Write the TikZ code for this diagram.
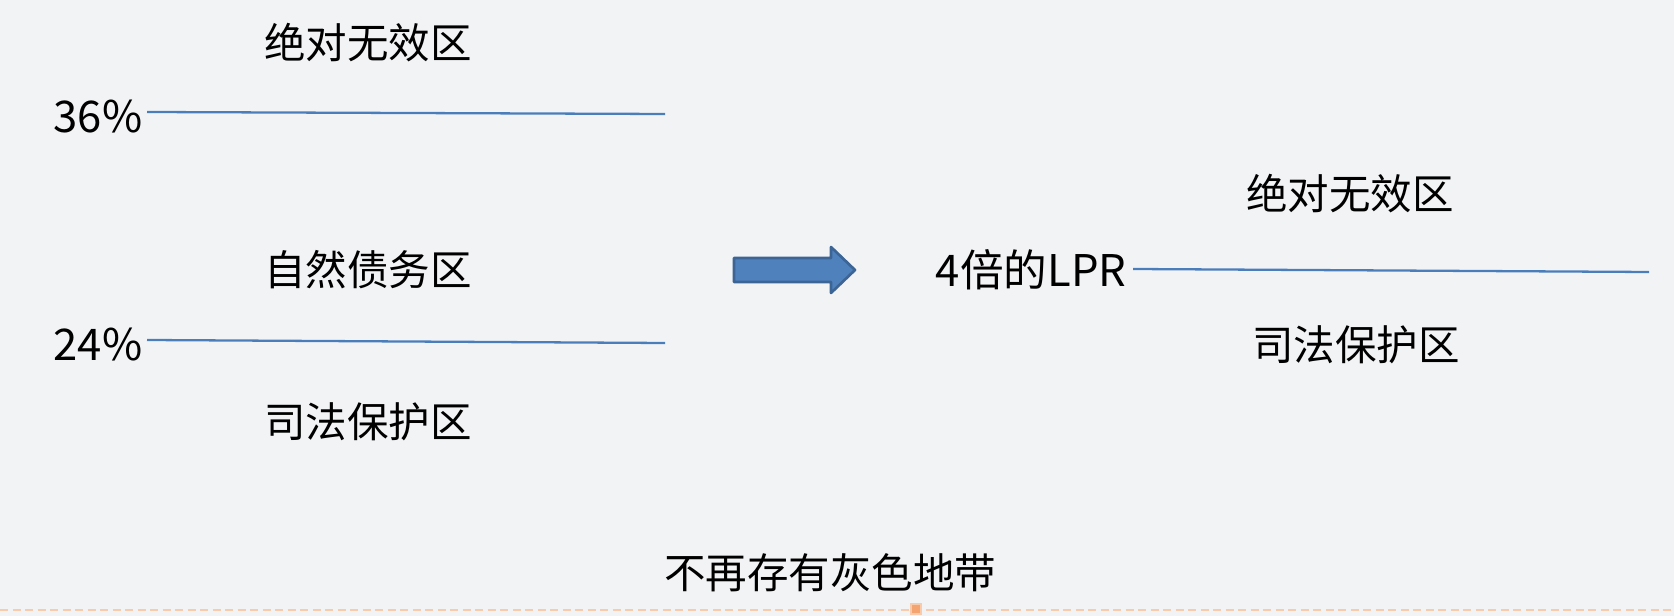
\documentclass[tikz,border=0pt]{standalone}
\usepackage{fontspec}
\newfontfamily\cjk{Noto Sans CJK SC}
\usepackage{tikz}
\usetikzlibrary{positioning,calc}
\definecolor{pagebg}{HTML}{F2F3F5}
\definecolor{lineblue}{HTML}{4A7EBB}
\definecolor{arrowfill}{HTML}{4F81BD}
\definecolor{arrowedge}{HTML}{3C6494}
\definecolor{dashorange}{HTML}{F8CBAD}
\definecolor{markorange}{HTML}{F4A470}

\begin{document}
\begin{tikzpicture}[x=0.01cm, y=-0.01cm,
  zone/.style={inner sep=0pt, font=\cjk\fontsize{11.8pt}{14pt}\selectfont},
  rate/.style={zone, anchor=east, font=\cjk\fontsize{12.4pt}{14pt}\selectfont},
  bound/.style={lineblue, line width=0.65pt},
  shiftarr/.style={fill=arrowfill, draw=arrowedge, line width=0.75pt, line join=round}
]
  \fill[pagebg] (0,0) rectangle (1674,616);
  \useasboundingbox (0,0) rectangle (1674,616);

  % before
  \node[zone] (void1)  at (368,43)  {绝对无效区};
  \node[rate] (r36)    at (143,117) {36\%};
  \node[zone] (nat)    at (368,270) {自然债务区};
  \node[rate] (r24)    at (143,345) {24\%};
  \node[zone] (prot1)  at (368,422) {司法保护区};
  \coordinate (e36) at (665,114);
  \coordinate (e24) at (665,343);
  \draw[bound] ($(r36.east)+(4,-5)$) -- (e36);
  \draw[bound] ($(r24.east)+(4,-5)$) -- (e24);

  % arrow
  \draw[shiftarr] (734,258) -- (831,258) -- (831,247) -- (855,270)
    -- (831,293) -- (831,282) -- (734,282) -- cycle;

  % after
  \node[zone] (void2)  at (1350,194) {绝对无效区};
  \node[rate] (rlpr)   at (1127,270) {4倍的LPR};
  \node[zone] (prot2)  at (1356,345) {司法保护区};
  \coordinate (elpr) at (1649,272);
  \draw[bound] ($(rlpr.east)+(6,-1)$) -- (elpr);

  \node[zone] (nogrey) at (830,573) {不再存有灰色地带};

  % page edge
  \draw[dashorange, line width=0.6pt, dash pattern=on 0.08cm off 0.045cm] (0,610) -- (1674,610);
  \node[fill=markorange, draw=dashorange, line width=0.3pt, minimum size=0.1cm, inner sep=0pt] (mark) at (916,609) {};
\end{tikzpicture}
\end{document}
